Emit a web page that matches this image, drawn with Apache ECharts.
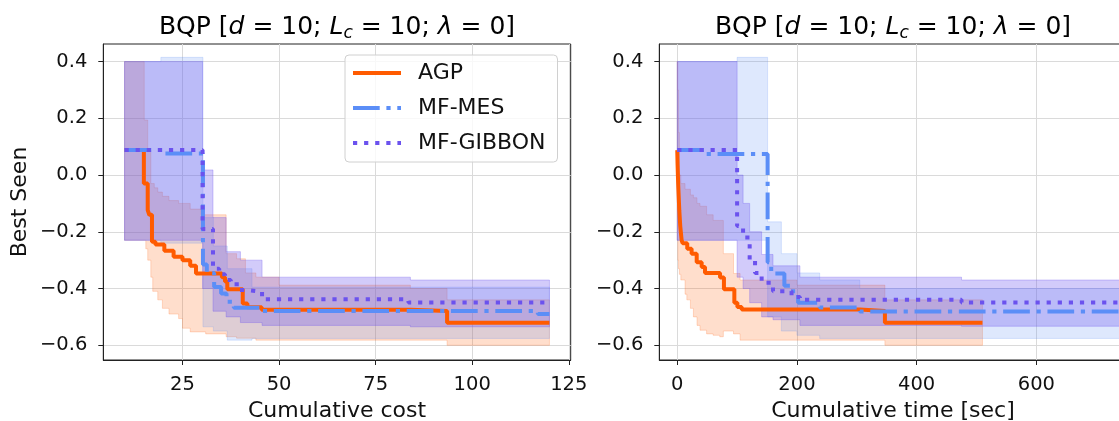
<!DOCTYPE html>
<html><head><meta charset="utf-8">
<script src="https://cdn.jsdelivr.net/npm/echarts@6/dist/echarts.min.js"></script>
<style>html,body{margin:0;padding:0;background:#fff}#c{width:1119px;height:421px}</style>
</head><body><div id="c"></div>
<script>
// ---------- tick labels ----------
const yTicks = [-0.6, -0.4, -0.2, 0, 0.2, 0.4];
const costTicks = [25, 50, 75, 100, 125];
const timeTicks = [0, 200, 400, 600];
const seriesNames = ['AGP', 'MF-MES', 'MF-GIBBON'];

// ---------- left panel: cumulative cost ----------
const agpCostX = [10, 15, 16, 16.4, 17.1, 18, 20.3, 22.7, 25, 27, 28.5, 35.2, 36, 36.6, 40.6, 41.8, 45.5, 84, 93.5, 120];
const agpCostY = [0.088, -0.03, -0.124, -0.14, -0.235, -0.245, -0.267, -0.288, -0.30, -0.32, -0.347, -0.36, -0.375, -0.403, -0.453, -0.466, -0.475, -0.479, -0.521, -0.521];
const mesCostX = [10, 20, 30.3, 31.3, 33.2, 35, 36.4, 38.3, 45.5, 117, 120];
const mesCostY = [0.088, 0.076, -0.315, -0.345, -0.395, -0.418, -0.447, -0.468, -0.479, -0.49, -0.49];
const gibCostX = [10, 30.2, 32.9, 34.5, 36, 37.5, 39.7, 41.3, 45.6, 83.5, 120];
const gibCostY = [0.088, -0.19, -0.33, -0.35, -0.37, -0.385, -0.405, -0.412, -0.438, -0.449, -0.449];

const agpCostBandX  = [10, 15.1, 15.5, 16, 16.8, 17.3, 17.7, 18.6, 19.8, 21.5, 24, 25, 27, 29.8, 31, 36.3, 39, 41.3, 44, 50, 84, 93.5, 120];
const agpCostBandHi = [0.40, 0.194, 0.194, 0.088, -0.03, -0.03, -0.045, -0.06, -0.075, -0.09, -0.10, -0.10, -0.12, -0.14, -0.14, -0.277, -0.295, -0.345, -0.36, -0.388, -0.40, -0.44, -0.44];
const agpCostBandLo = [-0.23, -0.23, -0.26, -0.30, -0.36, -0.41, -0.41, -0.44, -0.47, -0.49, -0.506, -0.54, -0.553, -0.553, -0.56, -0.57, -0.575, -0.575, -0.582, -0.582, -0.582, -0.60, -0.60];
const mesCostBandX  = [10, 19.4, 30.3, 33, 36.6, 43, 120];
const mesCostBandHi = [0.40, 0.415, -0.15, -0.25, -0.33, -0.395, -0.395];
const mesCostBandLo = [-0.23, -0.24, -0.535, -0.55, -0.582, -0.576, -0.576];
const gibCostBandX  = [10, 30.2, 32.9, 36.3, 40, 45.6, 84, 120];
const gibCostBandHi = [0.40, 0.018, -0.15, -0.27, -0.30, -0.36, -0.37, -0.37];
const gibCostBandLo = [-0.23, -0.40, -0.48, -0.50, -0.52, -0.53, -0.535, -0.535];

// ---------- right panel: cumulative time ----------
const agpTimeX = [0, 0.5, 1.5, 3.4, 5, 7.3, 9, 16.7, 24, 32.5, 40.8, 46.4, 71.5, 78, 95.4, 100.5, 107.7, 305, 347, 510];
const agpTimeY = [0.088, 0.04, -0.03, -0.124, -0.18, -0.23, -0.24, -0.26, -0.277, -0.307, -0.324, -0.345, -0.361, -0.403, -0.45, -0.465, -0.474, -0.479, -0.521, -0.521];
const mesTimeX = [0, 49, 151, 157, 179, 191, 202, 238, 305, 760];
const mesTimeY = [0.088, 0.074, -0.307, -0.347, -0.39, -0.41, -0.45, -0.467, -0.481, -0.481];
const gibTimeX = [0, 100, 110, 121, 130, 141, 160, 191, 205, 475, 760];
const gibTimeY = [0.088, -0.18, -0.22, -0.30, -0.345, -0.38, -0.41, -0.43, -0.44, -0.449, -0.449];

const agpTimeBandX  = [0, 1, 2, 3.5, 6, 13, 16, 22, 27, 33, 38, 49, 60, 71, 77, 94, 105, 200, 347, 510];
const agpTimeBandHi = [0.40, 0.30, 0.15, 0.0, -0.03, -0.05, -0.05, -0.07, -0.08, -0.10, -0.11, -0.14, -0.16, -0.16, -0.277, -0.347, -0.37, -0.388, -0.44, -0.44];
const agpTimeBandLo = [-0.23, -0.30, -0.33, -0.35, -0.37, -0.42, -0.44, -0.47, -0.50, -0.53, -0.547, -0.56, -0.565, -0.57, -0.55, -0.56, -0.582, -0.582, -0.60, -0.60];
const mesTimeBandX  = [0, 100, 151, 174, 200, 238, 305, 760];
const mesTimeBandHi = [0.40, 0.415, -0.165, -0.277, -0.345, -0.37, -0.40, -0.40];
const mesTimeBandLo = [-0.23, -0.23, -0.50, -0.55, -0.565, -0.576, -0.576, -0.576];
const gibTimeBandX  = [0, 100, 110, 121, 141, 160, 205, 475, 760];
const gibTimeBandHi = [0.40, 0.0, -0.10, -0.20, -0.28, -0.32, -0.36, -0.37, -0.37];
const gibTimeBandLo = [-0.23, -0.36, -0.40, -0.45, -0.50, -0.51, -0.53, -0.533, -0.533];

// ---------- styles ----------
const FONT = 'DejaVu Sans';
const C_AGP = '#ff5b00', C_MES = '#5b8ef7', C_GIB = '#6b52ee';
const F_AGP = 'rgba(255,91,0,0.2)', F_MES = 'rgba(91,142,247,0.2)', F_GIB = 'rgba(107,82,238,0.3)';
const DASHDOT = [26.7, 6.7, 4.2, 6.7];
const DOTTED = [4.2, 6.9];

function bandSeries(name, xs, lo, hi, color, gi) {
  return {
    type: 'custom', name: name, xAxisIndex: gi, yAxisIndex: gi, silent: true, z: 1,
    data: [[xs[0], lo[0]]],
    renderItem: function (params, api) {
      const pts = [];
      for (let i = 0; i < xs.length; i++) {
        if (i > 0) pts.push(api.coord([xs[i], hi[i - 1]]));
        pts.push(api.coord([xs[i], hi[i]]));
      }
      for (let i = xs.length - 1; i >= 0; i--) {
        pts.push(api.coord([xs[i], lo[i]]));
        if (i > 0) pts.push(api.coord([xs[i], lo[i - 1]]));
      }
      return { type: 'polygon', shape: { points: pts }, style: { fill: color, stroke: color, lineWidth: 1 } };
    }
  };
}
function lineSeries(name, xs, ys, color, type, gi) {
  return {
    type: 'line', name: name, xAxisIndex: gi, yAxisIndex: gi, step: 'end',
    symbol: 'none', showSymbol: false, z: 3, animation: false,
    data: xs.map((x, i) => [x, ys[i]]),
    lineStyle: { color: color, width: 4, type: type, cap: 'butt' },
    itemStyle: { color: color }
  };
}
function fmtY(v) {
  return (v < -1e-9 ? '\u2212' : '') + Math.abs(v).toFixed(1);
}
function xAxisOpt(gi, min, max, ticks, name) {
  return {
    type: 'value', gridIndex: gi, min: min, max: max,
    axisLine: { show: true, onZero: false, lineStyle: { color: '#222', width: 1 } },
    axisTick: { show: true, length: 5, customValues: ticks, lineStyle: { color: '#222', width: 1 } },
    axisLabel: { customValues: ticks, fontFamily: FONT, fontSize: 19.5, color: '#111', margin: 15 },
    splitLine: { show: true, lineStyle: { color: '#dadada', width: 1 } },
    name: name, nameLocation: 'middle', nameGap: 38,
    nameTextStyle: { fontFamily: FONT, fontSize: 22, color: '#111' }
  };
}
function yAxisOpt(gi, name) {
  return {
    type: 'value', gridIndex: gi, min: -0.652, max: 0.462,
    axisLine: { show: true, onZero: false, lineStyle: { color: '#222', width: 1 } },
    axisTick: { show: true, length: 5, customValues: yTicks, lineStyle: { color: '#222', width: 1 } },
    axisLabel: { customValues: yTicks, formatter: fmtY, fontFamily: FONT, fontSize: 19.5, color: '#111', margin: 16 },
    splitLine: { show: true, lineStyle: { color: '#dadada', width: 1 } },
    name: name, nameLocation: 'middle', nameGap: 72,
    nameTextStyle: { fontFamily: FONT, fontSize: 22, color: '#111' }
  };
}
const titleRich = {
  n: { fontFamily: FONT, fontSize: 25, color: '#111' },
  i: { fontFamily: FONT, fontSize: 25, fontStyle: 'italic', color: '#111' },
  s: { fontFamily: FONT, fontSize: 17, fontStyle: 'italic', color: '#111', padding: [14, 0, 0, 0] }
};
const titleText = '{n|BQP [}{i|d}{n| = 10; }{i|L}{s|c}{n| = 10; }{i|\u03bb}{n| = 0]}';

const chart = echarts.init(document.getElementById('c'), null, { renderer: 'canvas' });
chart.setOption({
  animation: false,
  backgroundColor: '#fff',
  grid: [
    { left: 103.3, top: 44, width: 467.4, height: 316, outerBoundsMode: 'none', containLabel: false, show: true, borderColor: '#222', borderWidth: 1, backgroundColor: 'transparent' },
    { left: 659.3, top: 44, width: 467.4, height: 316, outerBoundsMode: 'none', containLabel: false, show: true, borderColor: '#222', borderWidth: 1, backgroundColor: 'transparent' }
  ],
  xAxis: [xAxisOpt(0, 4.5, 125.5, costTicks, 'Cumulative cost'), xAxisOpt(1, -30, 751, timeTicks, 'Cumulative time [sec]')],
  yAxis: [yAxisOpt(0, 'Best Seen'), yAxisOpt(1, '')],
  legend: {
    data: seriesNames, orient: 'vertical', left: 345, top: 55,
    itemWidth: 48, itemHeight: 14, itemGap: 13,
    padding: [7, 12, 8, 6],
    itemStyle: { opacity: 0 },
    lineStyle: { width: 4 },
    backgroundColor: 'rgba(255,255,255,0.8)', borderColor: '#d0d0d0', borderWidth: 1, borderRadius: 4,
    formatter: function (name) { return '{g|}{t|' + name + '}'; },
    textStyle: {
      fontFamily: FONT, fontSize: 22, color: '#111',
      rich: { g: { width: 12 }, t: { fontFamily: FONT, fontSize: 22, color: '#111' } }
    }
  },
  graphic: [
    { type: 'text', x: 337, y: 27, style: { text: titleText, rich: titleRich, align: 'center', verticalAlign: 'middle' } },
    { type: 'text', x: 893, y: 27, style: { text: titleText, rich: titleRich, align: 'center', verticalAlign: 'middle' } }
  ],
  series: [
    bandSeries('AGP band', agpCostBandX, agpCostBandLo, agpCostBandHi, F_AGP, 0),
    bandSeries('MF-MES band', mesCostBandX, mesCostBandLo, mesCostBandHi, F_MES, 0),
    bandSeries('MF-GIBBON band', gibCostBandX, gibCostBandLo, gibCostBandHi, F_GIB, 0),
    lineSeries('AGP', agpCostX, agpCostY, C_AGP, 'solid', 0),
    lineSeries('MF-MES', mesCostX, mesCostY, C_MES, DASHDOT, 0),
    lineSeries('MF-GIBBON', gibCostX, gibCostY, C_GIB, DOTTED, 0),
    bandSeries('AGP band', agpTimeBandX, agpTimeBandLo, agpTimeBandHi, F_AGP, 1),
    bandSeries('MF-MES band', mesTimeBandX, mesTimeBandLo, mesTimeBandHi, F_MES, 1),
    bandSeries('MF-GIBBON band', gibTimeBandX, gibTimeBandLo, gibTimeBandHi, F_GIB, 1),
    lineSeries('AGP', agpTimeX, agpTimeY, C_AGP, 'solid', 1),
    lineSeries('MF-MES', mesTimeX, mesTimeY, C_MES, DASHDOT, 1),
    lineSeries('MF-GIBBON', gibTimeX, gibTimeY, C_GIB, DOTTED, 1)
  ]
});
</script></body></html>
